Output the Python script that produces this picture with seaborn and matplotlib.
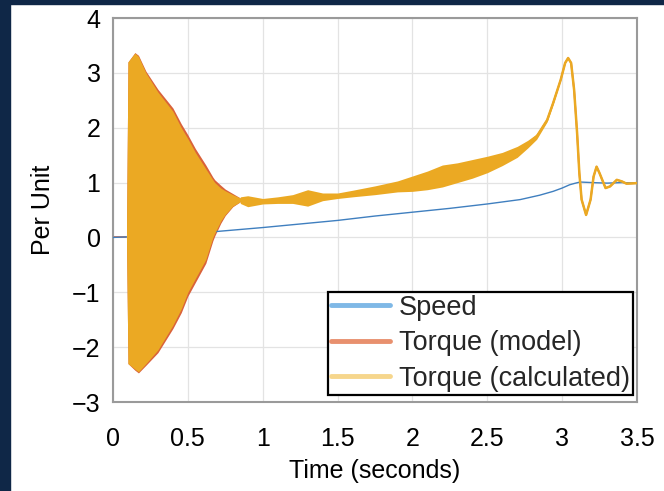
#!/usr/bin/env python3
"""Motor start-up: speed and torque (per unit) against time."""
import numpy as np
import pandas as pd

import matplotlib
matplotlib.use("Agg")
import matplotlib.pyplot as plt
from matplotlib.lines import Line2D
from matplotlib.patches import Rectangle
import seaborn as sns

# ---- data ------------------------------------------------------------------------
t_speed = [0, 0.1, 0.3, 0.5, 0.7, 1.0, 1.5, 1.75, 2.0, 2.25, 2.5, 2.72, 2.85, 2.94,
           3.0, 3.05, 3.09, 3.12, 3.2, 3.3, 3.4, 3.5]
speed = [0, 0.01, 0.04, 0.07, 0.11, 0.18, 0.31, 0.39, 0.46, 0.53, 0.61, 0.69, 0.77, 0.84,
         0.9, 0.96, 0.99, 1.01, 1.0, 0.99, 1.0, 0.99]

# start-up oscillation: envelope of the (dense) torque swing
t_osc = [0.09, 0.1, 0.146, 0.17, 0.22, 0.3, 0.4, 0.456, 0.5, 0.55, 0.62, 0.667, 0.68,
         0.72, 0.75, 0.8, 0.85]
osc_upper = [0, 3.2, 3.36, 3.3, 3.0, 2.65, 2.3, 2.0, 1.8, 1.55, 1.25, 1.05, 1.0,
             0.9, 0.85, 0.78, 0.72]
osc_lower = [0, -2.3, -2.4, -2.45, -2.3, -2.05, -1.6, -1.3, -1.0, -0.75, -0.4, 0.0, 0.08,
             0.3, 0.42, 0.57, 0.65]
# model envelope reaches a little further on the decaying side
model_upper = [0, 3.2, 3.37, 3.32, 3.03, 2.7, 2.36, 2.07, 1.87, 1.62, 1.32, 1.1, 1.05,
               0.95, 0.88, 0.8, 0.72]
model_lower = [0, -2.3, -2.42, -2.47, -2.33, -2.1, -1.66, -1.37, -1.07, -0.82, -0.47, -0.06, 0.03,
               0.26, 0.4, 0.56, 0.65]

# run-up and settling: torque centre line and ripple half-width
t_run = [0.85, 0.9, 1.0, 1.1, 1.2, 1.3, 1.4, 1.5, 1.6, 1.75, 1.9, 2.0, 2.1, 2.2, 2.3,
         2.4, 2.5, 2.6, 2.7, 2.77, 2.83, 2.9, 2.94, 2.99, 3.02, 3.04, 3.06, 3.08, 3.1,
         3.115, 3.13, 3.16, 3.19, 3.21, 3.23, 3.25, 3.29, 3.32, 3.365, 3.4, 3.43, 3.5]
torque_run = [0.68, 0.66, 0.66, 0.68, 0.7, 0.72, 0.74, 0.76, 0.8, 0.86, 0.93, 0.98, 1.04,
              1.12, 1.18, 1.25, 1.33, 1.43, 1.56, 1.7, 1.84, 2.14, 2.45, 2.87, 3.18, 3.27,
              3.18, 2.69, 1.9, 1.17, 0.69, 0.41, 0.69, 1.11, 1.29, 1.17, 0.9, 0.93, 1.05,
              1.02, 0.98, 0.99]
ripple = [0.06, 0.1, 0.05, 0.06, 0.08, 0.15, 0.07, 0.05, 0.06, 0.08, 0.1, 0.14, 0.17,
          0.2, 0.18, 0.17, 0.15, 0.12, 0.1, 0.07, 0.05, 0.03, 0.02, 0, 0, 0, 0, 0, 0,
          0, 0, 0, 0, 0, 0, 0, 0, 0, 0, 0, 0, 0]

x_ticks = [0, 0.5, 1, 1.5, 2, 2.5, 3, 3.5]
y_ticks = [-3, -2, -1, 0, 1, 2, 3, 4]

BLUE = "#3f7fbf"
RED = "#d9623a"
YELLOW = "#eba923"
NAVY = "#0f2747"

sns.set_theme(style="whitegrid")
plt.rcParams["font.family"] = ["Liberation Sans", "DejaVu Sans"]

fig = plt.figure(figsize=(6.64, 4.91), dpi=100, facecolor="white")
# dark slide border on the left and top
fig.patches.append(Rectangle((0, 0), 10 / 664, 1, transform=fig.transFigure,
                             color=NAVY, zorder=0))
fig.patches.append(Rectangle((0, 1 - 4 / 491), 1, 4 / 491, transform=fig.transFigure,
                             color=NAVY, zorder=0))

ax = fig.add_axes([113 / 664, 89 / 491, 524 / 664, 384 / 491])
ax.set_facecolor("white")

run = pd.DataFrame({"t": t_run, "torque": torque_run, "ripple": ripple})
spd = pd.DataFrame({"t": t_speed, "speed": speed})

# torque (model): flat before switching on, swing, then the run-up curve
ax.plot([0, t_osc[0]], [0, 0], color=RED, lw=1.2, zorder=2)
ax.fill_between(t_osc, model_lower, model_upper, color=RED, lw=0, zorder=2)
sns.lineplot(data=run, x="t", y="torque", color=RED, lw=1.2, ax=ax, zorder=2)

# speed
sns.lineplot(data=spd, x="t", y="speed", color=BLUE, lw=1.0, ax=ax, zorder=3)

# torque (calculated) on top
ax.fill_between(t_osc, osc_lower, osc_upper, color=YELLOW, lw=0, zorder=4)
ax.fill_between(run["t"], run["torque"] - run["ripple"], run["torque"] + run["ripple"],
                color=YELLOW, lw=0, zorder=4)
sns.lineplot(data=run, x="t", y="torque", color=YELLOW, lw=1.8, ax=ax, zorder=4)

ax.set_xlim(0, 3.5)
ax.set_ylim(-3, 4)
ax.set_xticks(x_ticks)
ax.set_xticklabels([f"{v:g}" for v in x_ticks])
ax.set_yticks(y_ticks)
ax.set_yticklabels([f"{v:g}".replace("-", "\u2212") for v in y_ticks])
ax.grid(True, color="#e3e3e3", lw=0.9)
ax.tick_params(axis="both", direction="in", length=4, width=0.8, color="#9a9a9a",
               labelsize=18, labelcolor="black")
ax.tick_params(axis="x", pad=18)
ax.tick_params(axis="y", pad=9)
for s in ax.spines.values():
    s.set_color("#9a9a9a")
    s.set_linewidth(1.5)
ax.set_xlabel("Time (seconds)", fontsize=18, color="black", labelpad=6)
ax.set_ylabel("Per Unit", fontsize=18, color="black", labelpad=12)

handles = [Line2D([], [], color="#7fb8e6", lw=3.5),
           Line2D([], [], color="#e8906e", lw=3.5),
           Line2D([], [], color="#f6d68c", lw=3.5)]
leg = ax.legend(handles, ["Speed", "Torque (model)", "Torque (calculated)"],
                loc="lower right", bbox_to_anchor=(0.992, 0.018), borderaxespad=0,
                fontsize=19.5, frameon=True, fancybox=False, framealpha=1,
                handlelength=2.2, handletextpad=0.3, labelspacing=0.35,
                borderpad=0.12)
leg.get_frame().set_edgecolor("black")
leg.get_frame().set_linewidth(1.6)
leg.set_zorder(10)

fig.savefig("out.png", dpi=100, facecolor=fig.get_facecolor())
